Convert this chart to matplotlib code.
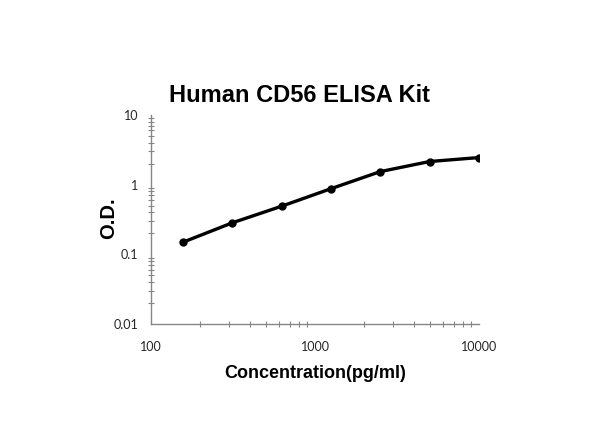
import matplotlib
matplotlib.use('Agg')
import matplotlib.pyplot as plt
from matplotlib.ticker import LogLocator, FuncFormatter, NullFormatter

# standard curve values
concentration = [156.25, 312.5, 625, 1250, 2500, 5000, 10000]
od = [0.149, 0.283, 0.49, 0.875, 1.54, 2.15, 2.45]

x_ticks = [100, 1000, 10000]
y_ticks = [0.01, 0.1, 1, 10]

fig = plt.figure(figsize=(6, 4.47), dpi=100)
ax = fig.add_axes([0.2517, 0.2752, 0.5466, 0.4675])

ax.plot(concentration, od, color='black', linewidth=2.4, marker='o',
        markersize=5)

ax.set_xscale('log')
ax.set_yscale('log')
ax.set_xlim(100, 10000)
ax.set_ylim(0.01, 10)

ax.set_xticks(x_ticks)
ax.set_yticks(y_ticks)
plain = FuncFormatter(lambda v, p: ('%g' % v))
ax.xaxis.set_major_formatter(plain)
ax.yaxis.set_major_formatter(plain)
ax.xaxis.set_minor_locator(LogLocator(base=10, subs=range(2, 10)))
ax.yaxis.set_minor_locator(LogLocator(base=10, subs=range(2, 10)))
ax.xaxis.set_minor_formatter(NullFormatter())
ax.yaxis.set_minor_formatter(NullFormatter())

for side in ['top', 'right']:
    ax.spines[side].set_visible(False)
for side in ['left', 'bottom']:
    ax.spines[side].set_color('#868686')
    ax.spines[side].set_linewidth(1.0)

ax.tick_params(which='major', length=0, labelsize=9, colors='#262626',
               labelfontfamily='Lato')
ax.tick_params(axis='x', which='major', pad=12)
ax.tick_params(axis='y', which='major', pad=9)
ax.tick_params(which='minor', direction='inout', length=5, width=0.8,
               color='#868686')

# title sits centred on the figure, not on the plot area
ax.set_title('Human CD56 ELISA Kit', fontsize=17, fontweight='bold',
             family='Liberation Sans', pad=9.5, x=0.454)
ax.set_xlabel('Concentration(pg/ml)', fontsize=13, fontweight='bold',
              family='Liberation Sans', va='center')
ax.set_ylabel('O.D.', fontsize=14.5, fontweight='bold',
              family='Liberation Sans', va='center')
ax.xaxis.set_label_coords(0.5, -0.235)
ax.yaxis.set_label_coords(-0.129, 0.508)

fig.savefig('out.png', dpi=100, facecolor='white')
